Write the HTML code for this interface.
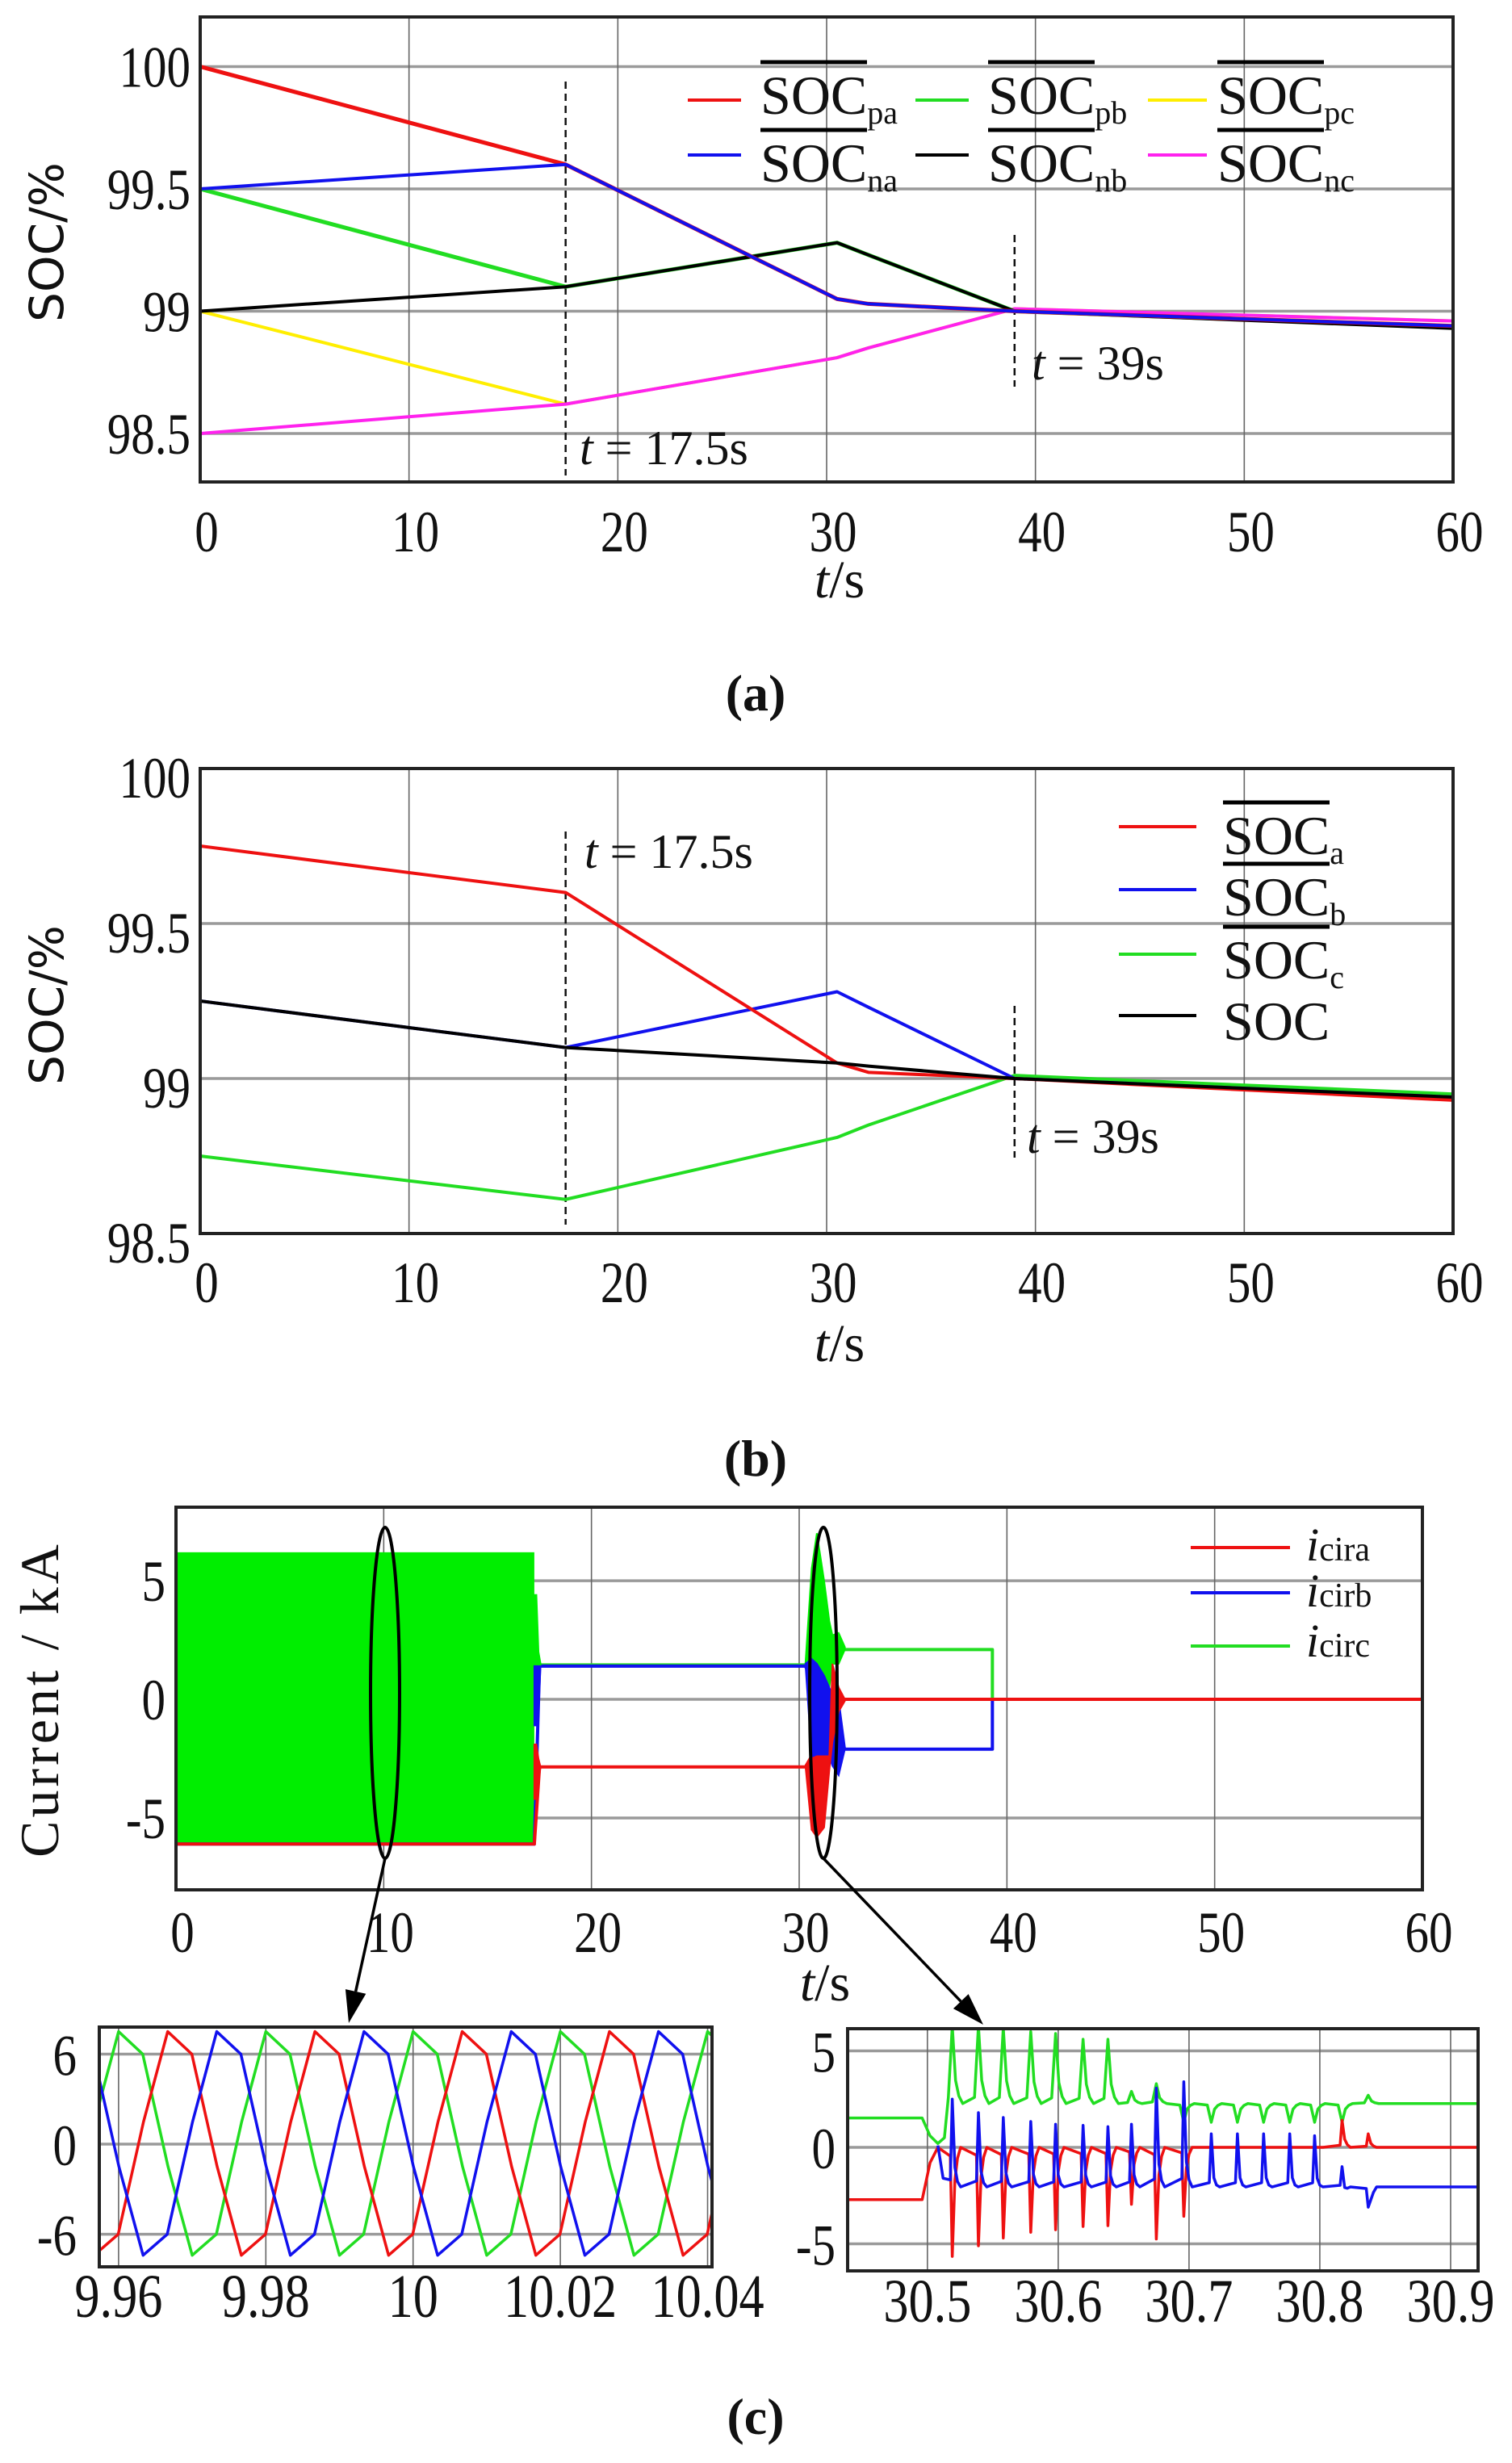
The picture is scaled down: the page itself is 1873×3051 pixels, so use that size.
<!DOCTYPE html>
<html><head><meta charset="utf-8">
<style>
html,body{margin:0;padding:0;background:#fff;}
svg{display:block;}
text{font-family:"Liberation Serif",serif;fill:#111;}
</style></head>
<body>
<svg id="fig" xmlns="http://www.w3.org/2000/svg" width="1873" height="3051" viewBox="0 0 1873 3051">
<rect x="0" y="0" width="1873" height="3051" fill="#fff"/>
</svg>
<script>
// ---------- chart (a) data ----------
const aTimes = [0, 17.5, 30.5, 32, 39, 60];
const aSOCpa = [100, 99.6, 99.05, 99.03, 99.0, 98.94];
const aSOCna = [99.5, 99.6, 99.05, 99.03, 99.0, 98.94];
const aSOCpb = [99.5, 99.1, 99.28, 99.23, 99.0, 98.935];
const aSOCnb = [99.0, 99.1, 99.28, 99.23, 99.0, 98.93];
const aSOCpc = [99.0, 98.62, 98.81, 98.85, 99.01, 98.96];
const aSOCnc = [98.5, 98.62, 98.81, 98.85, 99.01, 98.96];
const aXTicks = [0, 10, 20, 30, 40, 50, 60];
const aYTicks = [98.5, 99, 99.5, 100];
const aYTickLabels = ["98.5", "99", "99.5", "100"];
// ---------- chart (b) data ----------
const bTimes = [0, 17.5, 30.5, 32, 39, 60];
const bSOCa = [99.75, 99.6, 99.05, 99.02, 99.0, 98.93];
const bSOCb = [99.25, 99.1, 99.28, 99.23, 99.0, 98.94];
const bSOCc = [98.75, 98.61, 98.81, 98.85, 99.01, 98.95];
const bSOC = [99.25, 99.1, 99.05, 99.04, 99.0, 98.94];
const bXTicks = [0, 10, 20, 30, 40, 50, 60];
const bYTicks = [98.5, 99, 99.5, 100];
const bYTickLabels = ["98.5", "99", "99.5", "100"];
// ---------- chart (c) main data ----------
const cBlockEnd = 17.25;
const cBlockTop = 6.2;
const cBlockBottom = -6.1;
const cRedT = [0, 17.25, 17.5, 30.3, 32.2, 39.3, 60];
const cRedV = [-6.1, -6.1, -2.85, -2.85, 0, 0, 0];
const cBlueT = [0, 17.25, 17.5, 30.3, 32.2, 39.3, 39.3, 60];
const cBlueV = [-6.1, -6.1, 1.4, 1.4, -2.1, -2.1, 0, 0];
const cGreenT = [17.5, 30.3, 32.2, 39.3, 39.3, 60];
const cGreenV = [1.45, 1.45, 2.1, 2.1, 0, 0];
const cTransT = [17.25, 17.35, 17.45, 17.55];
const cTransGreenHi = [4.4, 4.4, 2.0, 1.5];
const cTransGreenLo = [1.4, 1.4, 1.4, 1.45];
const cTransBlueHi = [1.4, 1.4, 1.4, 1.4];
const cTransBlueLo = [-1.1, -1.1, -0.5, 1.4];
const cTransRedHi = [-1.9, -1.9, -2.5, -2.85];
const cTransRedLo = [-4.2, -4.2, -3.5, -2.85];
const cBurstT = [30.3, 30.6, 30.85, 31.2, 31.45, 31.6, 31.9, 32.2];
const cBurstGreenHi = [1.5, 5.5, 7.0, 5.0, 3.3, 2.7, 2.8, 2.2];
const cBurstGreenLo = [1.5, 0.0, 0.2, 0.3, 0.5, 1.5, 1.5, 2.1];
const cBurstBlueHi = [1.5, 1.7, 1.5, 1.0, 0.5, 0.2, 0.0, -2.0];
const cBurstBlueLo = [1.5, -2.4, -2.4, -2.4, -2.4, -2.8, -3.2, -2.1];
const cBurstRedHi = [-2.8, -2.5, -2.4, -2.4, -2.4, 1.5, 0.5, 0];
const cBurstRedLo = [-2.8, -5.5, -5.8, -5.4, -3.0, -1.8, -0.5, 0];
const cXTicks = [0, 10, 20, 30, 40, 50, 60];
const cYTicks = [-5, 0, 5];
// ---------- zoom left data ----------
const zlShapePhase = [0, 0.164, 0.336, 0.5, 0.664, 0.836, 1];
const zlShapeValue = [7.5, 6.0, -1.5, -7.4, -6.0, 1.5, 7.5];
const zlPeriod = 0.02;
const zlPeakGreen = 9.96;
const zlPeakRed = 9.96667;
const zlPeakBlue = 9.97333;
const zlXTicks = [9.96, 9.98, 10, 10.02, 10.04];
const zlXTickLabels = ["9.96", "9.98", "10", "10.02", "10.04"];
const zlYTicks = [-6, 0, 6];
// ---------- zoom right data ----------
const zrGreenHeadT = [30.438, 30.496, 30.502, 30.508, 30.513];
const zrGreenHeadV = [1.52, 1.52, 0.6, 0.2, 0.5];
const zrRedHeadT = [30.438, 30.496, 30.502, 30.508];
const zrRedHeadV = [-2.71, -2.71, -0.8, 0];
const zrBlueHeadT = [30.508, 30.512];
const zrBlueHeadV = [0.1, -1.6];
const zrGreenBase = 2.27;
const zrBlueBase = -2.05;
const zrRedBase = 0;
const zrSpikeT = [30.519, 30.539, 30.558, 30.579, 30.598, 30.619, 30.638, 30.656, 30.675, 30.696, 30.717, 30.737, 30.757, 30.777, 30.796, 30.817, 30.837];
const zrGreenPeak = [6.3, 6.3, 6.2, 6.0, 5.9, 5.6, 5.6, 2.9, 3.3, 1.3, 1.3, 1.3, 1.3, 1.3, 1.3, 1.3, 2.7];
const zrBluePeak = [2.5, 1.8, 1.55, 1.34, 1.2, 1.14, 1.07, 1.2, 3.07, 3.4, 0.7, 0.7, 0.7, 0.7, 0.6, -1.0, -3.1];
const zrRedPeak = [-5.65, -5.1, -4.7, -4.4, -4.27, -4.1, -4.06, -2.95, -4.75, -3.57, 0, 0, 0, 0, 0, 1.4, 0.7];
const zrXTicks = [30.5, 30.6, 30.7, 30.8, 30.9];
const zrXTickLabels = ["30.5", "30.6", "30.7", "30.8", "30.9"];
const zrYTicks = [-5, 0, 5];

const NS = "http://www.w3.org/2000/svg";
const svg = document.getElementById('fig');
function el(tag, attrs, parent) {
  const e = document.createElementNS(NS, tag);
  for (const k in attrs) e.setAttribute(k, attrs[k]);
  (parent || svg).appendChild(e);
  return e;
}
function scale(d0, d1, r0, r1) { return v => r0 + (v - d0) / (d1 - d0) * (r1 - r0); }
function pathD(ts, vs, sx, sy) {
  return ts.map((t, i) => (i ? 'L' : 'M') + sx(t).toFixed(2) + ' ' + sy(vs[i]).toFixed(2)).join(' ');
}
function bandD(ts, hi, lo, sx, sy) {
  let d = ts.map((t, i) => (i ? 'L' : 'M') + sx(t).toFixed(2) + ' ' + sy(hi[i]).toFixed(2)).join(' ');
  for (let i = ts.length - 1; i >= 0; i--) d += ' L' + sx(ts[i]).toFixed(2) + ' ' + sy(lo[i]).toFixed(2);
  return d + ' Z';
}
function tickText(x, y, str, anchor, size, parent) {
  const t = el('text', {x: 0, y: 0, 'text-anchor': anchor, 'font-size': size,
    transform: 'translate(' + x + ',' + y + ') scale(0.82,1)'}, parent);
  t.textContent = str;
  return t;
}

function axesFrame(name, L, R, T, B, sx, sy, xt, yt) {
  const g = el('g', {});
  
  
  for (const v of yt) {
    const ln = el('line', {x1: L, x2: R, y1: sy(v), y2: sy(v), stroke: '#9a9a9a', 'stroke-width': 3.5}, g);
    
    
  }
  for (const v of xt) {
    const ln = el('line', {x1: sx(v), x2: sx(v), y1: T, y2: B, stroke: '#666', 'stroke-width': 1.6}, g);
    
    
  }
  return g;
}
function frameRect(L, R, T, B) {
  const r = el('rect', {x: L, y: T, width: R - L, height: B - T, fill: 'none', stroke: '#222', 'stroke-width': 4});
  
  
}
function series(ts, vs, sx, sy, color, w, name, parent) {
  const p = el('path', {d: pathD(ts, vs, sx, sy), fill: 'none', stroke: color, 'stroke-width': w, 'stroke-linejoin': 'round'}, parent);
  
  
  return p;
}
function band(ts, hi, lo, sx, sy, color, name, parent) {
  const p = el('path', {d: bandD(ts, hi, lo, sx, sy), fill: color, stroke: color, 'stroke-width': 2}, parent);
  
  
  return p;
}
function vdash(x, y1, y2, name) {
  const l = el('line', {x1: x, x2: x, y1: y1, y2: y2, stroke: '#111', 'stroke-width': 2.5, 'stroke-dasharray': '9 6'});
  
  
}
function tLabel(x, y, rest, name) {
  const t = el('text', {x: x, y: y, 'font-size': 60});
  
  
  const a = el('tspan', {'font-style': 'italic'}, t); a.textContent = 't';
  const b = el('tspan', {}, t); b.textContent = rest;
}
function xTitle(cx, y, name) {
  const t = el('text', {x: cx, y: y, 'font-size': 66, 'text-anchor': 'middle'});
  
  
  const a = el('tspan', {'font-style': 'italic'}, t); a.textContent = 't';
  const b = el('tspan', {}, t); b.textContent = '/s';
}
function panelLabel(cx, y, s, name) {
  const t = el('text', {x: cx, y: y, 'font-size': 64, 'font-weight': 'bold', 'text-anchor': 'middle'});
  
  
  t.textContent = s;
}
function socLegend(lx1, lx2, ly, tx, base, sub, color, name) {
  const g = el('g', {});
  
  
  el('line', {x1: lx1, x2: lx2, y1: ly, y2: ly, stroke: color, 'stroke-width': 4}, g);
  const t = el('text', {x: tx, y: base, 'font-size': 68}, g);
  const a = el('tspan', {}, t); a.textContent = 'SOC';
  if (sub) { const b = el('tspan', {'font-size': 40, dy: 12}, t); b.textContent = sub; }
  el('line', {x1: tx, x2: tx + 132, y1: base - 64, y2: base - 64, stroke: '#000', 'stroke-width': 5}, g);
}

// ================= chart (a) =================
{
  const L = 248, R = 1800, T = 21, B = 597;
  const sx = scale(0, 60, L, R), sy = scale(98.302, 100.203, B, T);
  axesFrame('chart-a-grid', L, R, T, B, sx, sy, aXTicks.slice(1, -1), aYTicks);
  vdash(sx(17.5), 101, 589, 'marker-line-17-5s-a');
  vdash(sx(39), 291, 479, 'marker-line-39s-a');
  const s = el('g', {});
  
  
  series(aTimes, aSOCpc, sx, sy, '#ffee00', 4, 'line-soc-pc', s);
  series(aTimes, aSOCnc, sx, sy, '#ff22ee', 4, 'line-soc-nc', s);
  series(aTimes, aSOCpb, sx, sy, '#22dd22', 5, 'line-soc-pb', s);
  series(aTimes, aSOCnb, sx, sy, '#000', 4, 'line-soc-nb', s);
  series(aTimes, aSOCpa, sx, sy, '#ee1111', 5, 'line-soc-pa', s);
  series(aTimes, aSOCna, sx, sy, '#1111ee', 4, 'line-soc-na', s);
  frameRect(L, R, T, B);
  aXTicks.forEach(v => {
    const t = tickText(sx(v) + 8, 683, String(v), 'middle', 72);
    
    
  });
  aYTicks.forEach((v, i) => {
    const t = tickText(236, sy(v) + 25, aYTickLabels[i], 'end', 72);
    
    
  });
  tLabel(718, 575, ' = 17.5s', 'annotation-17-5s-a');
  tLabel(1278, 470, ' = 39s', 'annotation-39s-a');
  socLegend(852, 918, 124, 942, 141, 'pa', '#ee1111', 'legend-soc-pa');
  socLegend(1134, 1200, 124, 1224, 141, 'pb', '#22dd22', 'legend-soc-pb');
  socLegend(1422, 1495, 124, 1508, 141, 'pc', '#ffee00', 'legend-soc-pc');
  socLegend(852, 918, 192, 942, 225, 'na', '#1111ee', 'legend-soc-na');
  socLegend(1134, 1200, 192, 1224, 225, 'nb', '#000', 'legend-soc-nb');
  socLegend(1422, 1495, 192, 1508, 225, 'nc', '#ff22ee', 'legend-soc-nc');
  const yl = el('text', {x: 0, y: 0, 'font-size': 58, 'text-anchor': 'middle', transform: 'translate(78,300) rotate(-90)', style: 'font-family:"DejaVu Sans","Liberation Sans",sans-serif'});
  
  
  yl.textContent = 'SOC/%';
  xTitle(1040, 740, 'x-axis-title-a');
  panelLabel(936, 880, '(a)', 'panel-label-a');
}
// ================= chart (b) =================
{
  const L = 248, R = 1800, T = 952, B = 1528;
  const sx = scale(0, 60, L, R), sy = scale(98.5, 100, B, T);
  axesFrame('chart-b-grid', L, R, T, B, sx, sy, bXTicks.slice(1, -1), [99, 99.5]);
  vdash(sx(17.5), 1030, 1517, 'marker-line-17-5s-b');
  vdash(sx(39), 1246, 1434, 'marker-line-39s-b');
  const s = el('g', {});
  
  
  series(bTimes, bSOCc, sx, sy, '#22dd22', 4, 'line-soc-c', s);
  series(bTimes, bSOCb, sx, sy, '#1111ee', 4, 'line-soc-b', s);
  series(bTimes, bSOCa, sx, sy, '#ee1111', 4, 'line-soc-a', s);
  series(bTimes, bSOC, sx, sy, '#000', 4, 'line-soc-avg', s);
  frameRect(L, R, T, B);
  bXTicks.forEach(v => {
    const t = tickText(sx(v) + 8, 1613, String(v), 'middle', 72);
    
    
  });
  bYTicks.forEach((v, i) => {
    const t = tickText(236, sy(v) + 36, bYTickLabels[i], 'end', 72);
    
    
  });
  tLabel(724, 1075, ' = 17.5s', 'annotation-17-5s-b');
  tLabel(1272, 1428, ' = 39s', 'annotation-39s-b');
  socLegend(1386, 1482, 1024, 1515, 1058, 'a', '#ee1111', 'legend-soc-a');
  socLegend(1386, 1482, 1102, 1515, 1134, 'b', '#1111ee', 'legend-soc-b');
  socLegend(1386, 1482, 1182, 1515, 1212, 'c', '#22dd22', 'legend-soc-c');
  const g = el('g', {});
  
  
  el('line', {x1: 1386, x2: 1482, y1: 1258, y2: 1258, stroke: '#000', 'stroke-width': 4}, g);
  const tt = el('text', {x: 1515, y: 1288, 'font-size': 68}, g); tt.textContent = 'SOC';
  const yl = el('text', {x: 0, y: 0, 'font-size': 58, 'text-anchor': 'middle', transform: 'translate(78,1245) rotate(-90)', style: 'font-family:"DejaVu Sans","Liberation Sans",sans-serif'});
  
  
  yl.textContent = 'SOC/%';
  xTitle(1040, 1686, 'x-axis-title-b');
  panelLabel(936, 1828, '(b)', 'panel-label-b');
}
// ================= chart (c) main =================
{
  const L = 218, R = 1762, T = 1867, B = 2341;
  const sx = scale(0, 60, L, R), sy = scale(-8.03, 8.1, B, T);
  axesFrame('chart-c-grid', L, R, T, B, sx, sy, cXTicks.slice(1, -1), cYTicks);
  const s = el('g', {});
  
  
  const blk = el('rect', {x: sx(0), y: sy(cBlockTop), width: sx(cBlockEnd) - sx(0), height: sy(cBlockBottom) - sy(cBlockTop), fill: '#00ee00'}, s);
  
  
  series(cGreenT, cGreenV, sx, sy, '#22dd22', 4, 'line-icirc', s);
  series(cBlueT, cBlueV, sx, sy, '#1111ee', 4, 'line-icirb', s);
  series(cRedT, cRedV, sx, sy, '#ee1111', 4, 'line-icira', s);
  band(cTransT, cTransGreenHi, cTransGreenLo, sx, sy, '#00ee00', 'transient-green-17s', s);
  band(cTransT, cTransBlueHi, cTransBlueLo, sx, sy, '#1111ee', 'transient-blue-17s', s);
  band(cTransT, cTransRedHi, cTransRedLo, sx, sy, '#ee1111', 'transient-red-17s', s);
  band(cBurstT, cBurstGreenHi, cBurstGreenLo, sx, sy, '#00ee00', 'burst-green-30s', s);
  band(cBurstT, cBurstBlueHi, cBurstBlueLo, sx, sy, '#1111ee', 'burst-blue-30s', s);
  band(cBurstT, cBurstRedHi, cBurstRedLo, sx, sy, '#ee1111', 'burst-red-30s', s);
  frameRect(L, R, T, B);
  cXTicks.forEach(v => {
    const t = tickText(sx(v) + 8, 2418, String(v), 'middle', 72);
    
    
  });
  cYTicks.forEach(v => {
    const t = tickText(205, sy(v) + 25, String(v), 'end', 72);
    
    
  });
  const leg = [['#ee1111', 1917, 1933, 'cira'], ['#1111ee', 1973, 1990, 'cirb'], ['#22dd22', 2039, 2052, 'circ']];
  leg.forEach(e => {
    const g = el('g', {});
    
    
    el('line', {x1: 1475, x2: 1598, y1: e[1], y2: e[1], stroke: e[0], 'stroke-width': 4}, g);
    const t = el('text', {x: 1618, y: e[2], 'font-size': 58}, g);
    const a = el('tspan', {'font-style': 'italic'}, t); a.textContent = 'i';
    const b = el('tspan', {'font-size': 42}, t); b.textContent = e[3];
  });
  const yl = el('text', {x: 0, y: 0, 'font-size': 68, 'text-anchor': 'middle', 'letter-spacing': 4, transform: 'translate(72,2105) rotate(-90)'});
  
  
  yl.textContent = 'Current / kA';
  xTitle(1022, 2478, 'x-axis-title-c');
  const e1 = el('ellipse', {cx: 477, cy: 2097, rx: 18, ry: 205, fill: 'none', stroke: '#000', 'stroke-width': 4});
  
  
  const e2 = el('ellipse', {cx: 1020, cy: 2097, rx: 17, ry: 205, fill: 'none', stroke: '#000', 'stroke-width': 4});
  
  
  const arrows = [[477, 2302, 432, 2506, 'arrow-to-left-zoom'], [1020, 2302, 1218, 2508, 'arrow-to-right-zoom']];
  arrows.forEach(a => {
    const g = el('g', {});
    
    
    const dx = a[2] - a[0], dy = a[3] - a[1], len = Math.hypot(dx, dy), ux = dx / len, uy = dy / len;
    const bx = a[2] - ux * 40, by = a[3] - uy * 40;
    el('line', {x1: a[0], y1: a[1], x2: bx, y2: by, stroke: '#000', 'stroke-width': 3.5}, g);
    el('polygon', {points: a[2] + ',' + a[3] + ' ' + (bx - uy * 13) + ',' + (by + ux * 13) + ' ' + (bx + uy * 13) + ',' + (by - ux * 13), fill: '#000'}, g);
  });
}
// ================= zoom left =================
{
  const L = 123, R = 882, T = 2511, B = 2808;
  const sx = scale(9.95738, 10.0406, L, R), sy = scale(-8.17, 7.8, B, T);
  axesFrame('zoom-left-grid', L, R, T, B, sx, sy, zlXTicks, zlYTicks);
  const defs = el('defs', {});
  const cp = el('clipPath', {id: 'clipL'}, defs);
  el('rect', {x: L, y: T, width: R - L, height: B - T}, cp);
  const s = el('g', {'clip-path': 'url(#clipL)'});
  
  
  function wave(peak) {
    const ts = [], vs = [];
    const t0 = 9.95738, t1 = 10.0406;
    let k = Math.floor((t0 - peak) / zlPeriod) - 1;
    for (; peak + k * zlPeriod < t1 + zlPeriod; k++) {
      for (let i = 0; i < zlShapePhase.length - 1; i++) {
        ts.push(peak + (k + zlShapePhase[i]) * zlPeriod);
        vs.push(zlShapeValue[i]);
      }
    }
    return [ts, vs];
  }
  const gw = wave(zlPeakGreen), rw = wave(zlPeakRed), bw = wave(zlPeakBlue);
  series(gw[0], gw[1], sx, sy, '#22dd22', 3.5, 'zoom-left-icirc', s);
  series(rw[0], rw[1], sx, sy, '#ee1111', 3.5, 'zoom-left-icira', s);
  series(bw[0], bw[1], sx, sy, '#1111ee', 3.5, 'zoom-left-icirb', s);
  frameRect(L, R, T, B);
  zlXTicks.forEach((v, i) => {
    const t = tickText(sx(v), 2870, zlXTickLabels[i], 'middle', 76);
    
    
  });
  zlYTicks.forEach(v => {
    const t = tickText(95, sy(v) + 26, String(v), 'end', 72);
    
    
  });
}
// ================= zoom right =================
{
  const L = 1050, R = 1831, T = 2513, B = 2813;
  const sx = scale(30.439, 30.921, L, R), sy = scale(-6.4, 6.15, B, T);
  axesFrame('zoom-right-grid', L, R, T, B, sx, sy, zrXTicks, zrYTicks);
  const defs = el('defs', {});
  const cp = el('clipPath', {id: 'clipR'}, defs);
  el('rect', {x: L, y: T, width: R - L, height: B - T}, cp);
  const s = el('g', {'clip-path': 'url(#clipR)'});
  
  
  function spikes(headT, headV, base, peaks, pre, post, over) {
    const ts = headT.slice(), vs = headV.slice();
    zrSpikeT.forEach((t, i) => {
      const p = peaks[i];
      ts.push(t - pre); vs.push(base + (p - base) * 0.08);
      ts.push(t); vs.push(p);
      ts.push(t + post); vs.push(base + (p - base) * 0.3 + over);
      ts.push(t + post * 2); vs.push(base + (p - base) * 0.1 + over * 0.5);
      ts.push(t + post * 3.2); vs.push(base);
    });
    ts.push(30.921); vs.push(base);
    return [ts, vs];
  }
  const gs = spikes(zrGreenHeadT, zrGreenHeadV, zrGreenBase, zrGreenPeak, 0.003, 0.0025, 0);
  const bs = spikes(zrBlueHeadT, zrBlueHeadV, zrBlueBase, zrBluePeak, 0.0015, 0.002, -0.35);
  const rs = spikes(zrRedHeadT, zrRedHeadV, zrRedBase, zrRedPeak, 0.0015, 0.002, 0);
  series(gs[0], gs[1], sx, sy, '#22dd22', 3.5, 'zoom-right-icirc', s);
  series(rs[0], rs[1], sx, sy, '#ee1111', 3.5, 'zoom-right-icira', s);
  series(bs[0], bs[1], sx, sy, '#1111ee', 3.5, 'zoom-right-icirb', s);
  frameRect(L, R, T, B);
  zrXTicks.forEach((v, i) => {
    const t = tickText(sx(v), 2876, zrXTickLabels[i], 'middle', 76);
    
    
  });
  zrYTicks.forEach(v => {
    const t = tickText(1035, sy(v) + 26, String(v), 'end', 72);
    
    
  });
  panelLabel(936, 3015, '(c)', 'panel-label-c');
}
</script>
</body></html>
